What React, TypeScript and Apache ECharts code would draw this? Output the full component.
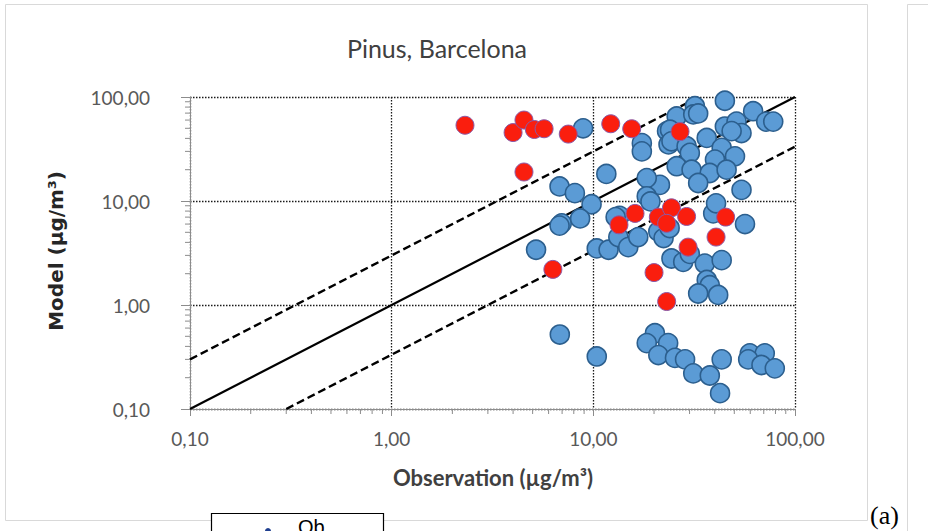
import React, { useEffect, useRef } from "react";
import * as echarts from "echarts";

// Observed vs modelled pollen concentrations (log-log)
const blueObs: number[] = [
  8.9, 17.4, 17.4, 23.2, 23.6, 44.9, 31.9, 25.9, 31.3, 33.1, 62, 72, 78, 44.9, 51.3, 54.3, 48.5, 24, 24.4, 29,
  36.5, 43.3, 50.4, 40.1, 30.1, 25.9, 30.7, 37.8, 45.8, 33.1, 54.3, 21.4, 18.4, 18.4, 11.6, 6.8, 8.1, 9.8,
  6.97, 6.8, 8.6, 5.2, 10.4, 11.9, 13.3, 14.9, 16.7, 13.5, 19.2, 21, 22.3, 23.9, 39.3, 40.6, 56.5, 24.4, 27.9,
  30.1, 35.7, 43.3, 36.5, 37.8, 33.1, 41.6, 12.9,
  6.82, 10.4, 20.2, 18.4, 23.5, 21, 25.4, 28.5, 31.3, 37.8, 43.3, 42.5, 59.7, 70.8, 58.6, 68.2, 79.4,
];
const blueMod: number[] = [
  50, 36, 30, 47, 35, 92, 81.5, 65, 68, 69.5, 73, 58, 58, 52, 58, 45, 47, 48.5, 37.5, 33.6,
  40.4, 32.4, 26.9, 25, 29, 21.6, 20, 18.6, 20, 14.9, 12.8, 14.3, 16.6, 11.1, 18.2, 13.8, 11.9, 9.3,
  6.1, 5.8, 6.8, 3.4, 3.5, 3.4, 4.5, 3.6, 4.5, 7.2, 9.9, 5.1, 4.4, 5.5, 7.6, 9.5, 6.0, 2.8, 2.6,
  3.1, 2.5, 2.7, 1.74, 1.55, 1.29, 1.25, 7.0,
  0.52, 0.32, 0.535, 0.43, 0.43, 0.33, 0.31, 0.3, 0.22, 0.21, 0.3, 0.142, 0.343, 0.343, 0.3, 0.265, 0.246,
];
const redObs: number[] = [
  2.31, 4.0, 4.53, 5.1, 5.7, 7.51, 12.2, 15.5, 26.9, 4.53, 16.1, 13.4, 21, 24.4, 23.1, 29, 45.3, 40.6, 29.5,
  6.3, 20.0, 23.1,
];
const redMod: number[] = [
  53.5, 45.5, 60, 48.7, 49.5, 44, 55.3, 49.5, 46.5, 19, 7.6, 5.9, 7.0, 8.6, 6.1, 7.1, 7.0, 4.5, 3.6,
  2.2, 2.05, 1.08,
];

// 1:1 line and factor-of-3 envelope
const lineOneToOne: number[][] = [[0.1, 0.1], [100, 100]];
const lineUpper: number[][] = [[0.1, 0.3], [33.33, 100]];
const lineLower: number[][] = [[0.3, 0.1], [100, 33.33]];

// minor tick positions inside each decade
const minorTickValues: number[] = [
  0.2, 0.3, 0.4, 0.5, 0.6, 0.7, 0.8, 0.9,
  2, 3, 4, 5, 6, 7, 8, 9,
  20, 30, 40, 50, 60, 70, 80, 90,
];

const chartTitle = "Pinus, Barcelona";
const xTitle = "Observation (µg/m³)";
const yTitle = "Model (µg/m³)";

const fmt = (v: number) => (Math.round(v * 100) / 100).toFixed(2).replace(".", ",");

export default function App() {
  const ref = useRef<HTMLDivElement>(null);

  useEffect(() => {
    if (!ref.current) return;
    const chart = echarts.init(ref.current, undefined, { renderer: "svg" });

    const minorData: number[][] = [
      ...minorTickValues.map((v) => [v, 0.1, 0]),
      ...minorTickValues.map((v) => [0.1, v, 1]),
    ];

    const axisGray = "#8c8c8c";
    const labelFont = "Lato, 'Open Sans', sans-serif";

    chart.setOption({
      animation: false,
      backgroundColor: "#ffffff",
      grid: { left: 190, top: 97, width: 605, height: 312 },
      xAxis: {
        type: "log",
        logBase: 10,
        min: 0.1,
        max: 100,
        axisLine: { show: true, lineStyle: { color: axisGray, width: 1 } },
        axisTick: { show: true, length: 7, lineStyle: { color: axisGray } },
        axisLabel: { formatter: fmt, fontSize: 19, color: "#595959", margin: 20, fontFamily: labelFont },
        splitLine: { show: true, lineStyle: { color: "#1a1a1a", width: 1.3, type: [1.5, 1.5] } },
      },
      yAxis: {
        type: "log",
        logBase: 10,
        min: 0.1,
        max: 100,
        axisLine: { show: true, lineStyle: { color: axisGray, width: 1 } },
        axisTick: { show: true, length: 9, lineStyle: { color: axisGray } },
        axisLabel: { formatter: fmt, fontSize: 19, color: "#595959", margin: 40, fontFamily: labelFont },
        splitLine: { show: true, lineStyle: { color: "#1a1a1a", width: 1.3, type: [1.5, 1.5] } },
      },
      series: [
        {
          type: "custom",
          silent: true,
          clip: false,
          z: 1,
          data: minorData,
          renderItem: (params: any, api: any) => {
            const isY = api.value(2) === 1;
            const p = api.coord([api.value(0), api.value(1)]);
            const shape = isY
              ? { x1: p[0] - 5, y1: p[1], x2: p[0], y2: p[1] }
              : { x1: p[0], y1: p[1], x2: p[0], y2: p[1] + 5 };
            return { type: "line", shape, style: { stroke: axisGray, lineWidth: 1 } };
          },
        },
        {
          type: "line",
          data: lineOneToOne,
          symbol: "none",
          z: 2,
          lineStyle: { color: "#000", width: 2.2 },
        },
        {
          type: "line",
          data: lineUpper,
          symbol: "none",
          z: 2,
          lineStyle: { color: "#000", width: 2.4, type: [8, 4] },
        },
        {
          type: "line",
          data: lineLower,
          symbol: "none",
          z: 2,
          lineStyle: { color: "#000", width: 2.4, type: [8, 4] },
        },
        {
          type: "scatter",
          z: 3,
          symbolSize: 19,
          data: blueObs.map((x, i) => [x, blueMod[i]]),
          itemStyle: { color: "#5B9BD5", borderColor: "#2C5F8E", borderWidth: 1.6, opacity: 1 },
        },
        {
          type: "scatter",
          z: 4,
          symbolSize: 18,
          data: redObs.map((x, i) => [x, redMod[i]]),
          itemStyle: { color: "#FA1E0E", borderColor: "#8A5AA8", borderWidth: 1, opacity: 1 },
        },
      ],
      graphic: [
        {
          type: "rect",
          shape: { x: 5.5, y: 4.5, width: 862, height: 516 },
          style: { fill: "none", stroke: "#d9d9d9", lineWidth: 1 },
          z: -10,
        },
        {
          type: "polyline",
          shape: { points: [[907.5, 531], [907.5, 4.5], [928, 4.5]] },
          style: { fill: "none", stroke: "#d9d9d9", lineWidth: 1 },
        },
        {
          type: "text",
          x: 437,
          y: 48,
          style: {
            text: chartTitle,
            fontSize: 25,
            fontFamily: labelFont,
            fill: "#404040",
            textAlign: "center",
            textVerticalAlign: "middle",
          },
        },
        {
          type: "text",
          x: 493,
          y: 477,
          style: {
            text: xTitle,
            fontSize: 22,
            fontWeight: "bold",
            fontFamily: labelFont,
            fill: "#404040",
            textAlign: "center",
            textVerticalAlign: "middle",
          },
        },
        {
          type: "text",
          x: 56,
          y: 251,
          rotation: Math.PI / 2,
          style: {
            text: yTitle,
            fontSize: 20,
            fontWeight: "bold",
            fontFamily: "'DejaVu Sans', sans-serif",
            fill: "#262626",
            textAlign: "center",
            textVerticalAlign: "middle",
          },
        },
        {
          type: "text",
          x: 870,
          y: 528,
          style: {
            text: "(a)",
            fontSize: 26,
            fontFamily: "'Liberation Serif', serif",
            fill: "#000",
            textAlign: "left",
            textVerticalAlign: "bottom",
          },
        },
        {
          type: "rect",
          shape: { x: 211.5, y: 513.5, width: 172, height: 30 },
          style: { fill: "#fff", stroke: "#000", lineWidth: 1.2 },
        },
        {
          type: "circle",
          shape: { cx: 268, cy: 531, r: 3 },
          style: { fill: "#1f3f8f" },
        },
        {
          type: "text",
          x: 298,
          y: 517,
          style: {
            text: "Ob",
            fontSize: 20,
            fontFamily: "'Liberation Sans', Arial, sans-serif",
            fill: "#000",
            textAlign: "left",
            textVerticalAlign: "top",
          },
        },
      ],
    });

    return () => chart.dispose();
  }, []);

  return (
    <div
      ref={ref}
      style={{ position: "absolute", left: 0, top: 0, width: 928, height: 531 }}
    />
  );
}
